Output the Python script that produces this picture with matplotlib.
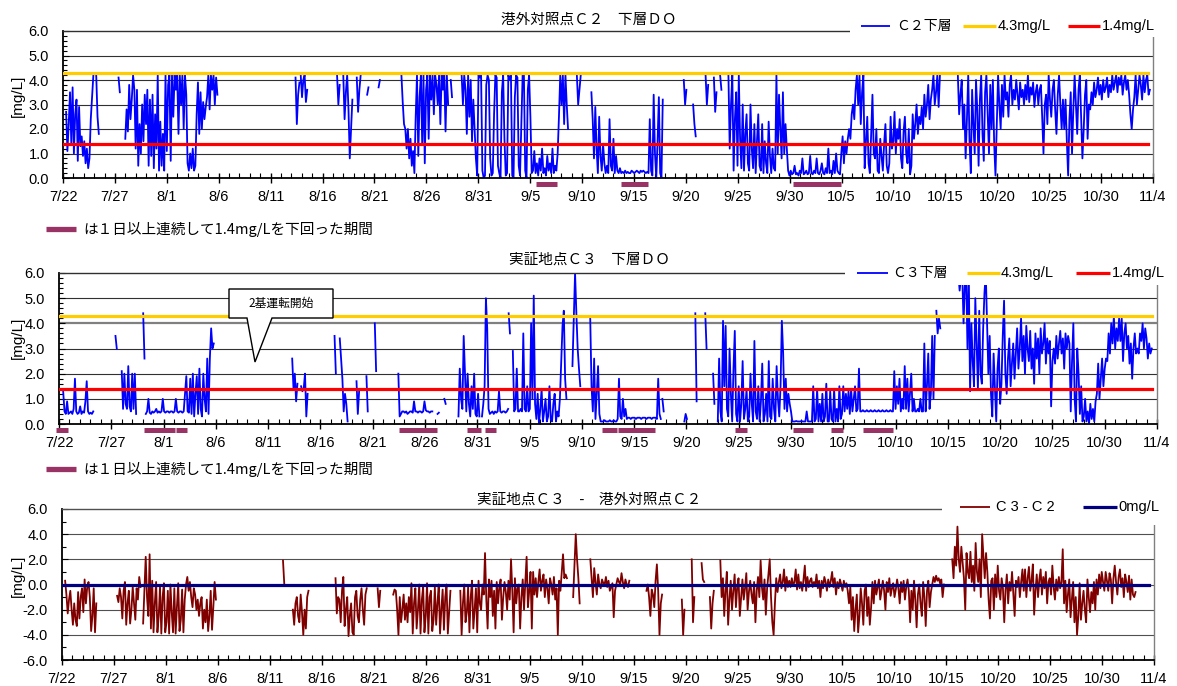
import numpy as np
import matplotlib
matplotlib.use("Agg")
import matplotlib.pyplot as plt
from matplotlib.lines import Line2D
from matplotlib.patches import Polygon, Rectangle
from matplotlib.transforms import blended_transform_factory

# ---------------------------------------------------------------- data
# Day offsets are counted from 7/22 (day 0); each series is stored as
# runs of readings taken every STEP days (3 h), starting at the given day.
STEP = 0.125

TICK_DAYS = list(range(0, 106, 5))
TICK_LABELS = ["7/22", "7/27", "8/1", "8/6", "8/11", "8/16", "8/21", "8/26",
               "8/31", "9/5", "9/10", "9/15", "9/20", "9/25", "9/30", "10/5",
               "10/10", "10/15", "10/20", "10/25", "10/30", "11/4"]

LIMIT_HIGH = 4.3
LIMIT_LOW = 1.4
LIMIT_ZERO = 0.0
LIMIT_SPAN = [0.0, 104.5]

# C2 lower-layer DO [mg/L]
C2_RUNS = [
    (0.3, [2.7, 1.1, 2.2, 3.5, 1.4, 3.7, 1.0, 2.6, 3.2, 0.7, 2.9, 1.3, 1.7,
           0.9, 1.5, 0.6, 1.2, 0.4, 0.8, 2.4, 3.3, 4.2]),
    (3.2, [4.2, 2.5, 1.8]),
    (5.35, [4.1, 3.5]),
    (6.0, [1.6, 2.8, 1.9, 3.8, 2.4, 3.2, 4.2, 3.6,
           1.2, 3.6, 0.5, 2.2, 1.0, 3.0,
           1.5, 3.4, 2.2, 3.6,
           0.5, 3.2, 0.9, 3.4, 0.4, 2.6, 1.2, 4.2,
           0.3, 2.3, 0.5, 1.8, 0.3,
           4.2, 1.1, 3.8, 4.2, 0.7, 4.2, 2.5, 4.2, 3.6, 4.2, 1.8, 4.2, 3.0,
           4.2, 2.0, 4.2, 3.4,
           0.6, 0.3, 1.0, 0.4, 1.2, 0.3, 0.5,
           2.6, 3.9, 1.8, 3.5,
           2.0, 3.1, 2.4, 2.9,
           3.3, 4.2, 2.8, 4.2, 3.6, 4.2, 3.0, 4.1, 3.4]),
    (22.4, [4.1, 2.2, 3.4, 3.9]),
    (22.9, [4.2, 3.3, 4.0, 4.2, 3.1, 3.6]),
    (26.4, [4.2, 3.0, 3.8]),
    (27.0, [4.2, 2.4, 3.5, 4.2, 2.8, 0.8, 2.0, 3.2]),
    (28.3, [4.1, 2.7, 3.6, 4.2]),
    (29.3, [3.4, 3.7]),
    (30.4, [3.7, 4.0]),
    (32.6, [4.2, 3.1, 2.2, 2.0,
            1.2, 2.0, 0.8, 1.6, 0.5, 1.1, 0.2,
            2.5, 4.2, 0.9, 3.3, 4.2, 1.4, 4.2, 0.6, 3.6, 4.2,
            1.6, 4.2, 3.2, 4.2, 2.6, 4.2, 3.8, 3.0, 4.2, 2.2, 4.2, 3.6, 4.2,
            1.9, 4.2, 3.0]),
    (37.35, [4.0, 3.3]),
    (38.4, [4.2, 3.0, 4.2, 3.6, 1.8, 4.2, 2.5, 4.0, 1.5, 3.2, 2.0, 0.8, 0.1,
            4.2, 4.1, 4.2, 0.3, 0.0, 0.1, 3.8, 4.2, 4.0, 0.8, 0.1, 0.2, 2.6,
            4.2, 4.1, 0.5, 0.2, 0.0, 3.5, 4.2, 1.6, 0.1, 0.2, 4.2, 4.0, 4.2,
            0.1, 0.0, 3.3, 4.2, 4.1, 0.5, 0.1, 2.2, 4.2, 4.2, 0.3, 0.0, 3.6,
            4.2, 2.5, 0.2,
            0.3, 1.1, 0.2, 0.6, 0.1, 0.8, 0.3, 1.2, 0.2, 0.4, 0.1, 0.9, 0.3,
            0.6, 0.2, 1.2, 0.2, 0.5, 0.3, 1.0,
            2.5, 4.2, 3.0, 4.2, 2.2, 4.2, 3.0, 2.0]),
    (49.5, [4.2, 3.0, 3.6, 4.2]),
    (50.9, [3.5, 2.4, 0.8, 2.9, 1.2, 0.2, 2.5, 0.9, 0.3, 1.4, 0.6, 0.2, 0.5,
            0.2, 2.4, 0.5, 0.3, 1.6, 0.2, 0.9, 0.3, 0.2, 0.4,
            0.2, 0.25, 0.2, 0.3, 0.2, 0.25, 0.2, 0.2, 0.3, 0.25, 0.2, 0.25,
            0.3, 0.25, 0.2, 0.3, 0.25, 0.3, 0.25, 0.2, 0.25,
            0.2, 2.4, 0.3, 0.1, 3.4, 1.0, 0.0, 1.5, 3.3, 0.2, 0.0, 3.2]),
    (59.8, [4.0, 3.0, 3.6]),
    (60.7, [3.0, 2.2, 1.7]),
    (61.9, [4.2, 3.0, 3.8]),
    (62.7, [4.1, 2.7, 3.5]),
    (63.3, [4.2, 3.6]),
    (64.1, [4.2, 1.2, 3.0, 4.2, 0.3, 2.4, 3.5, 0.5, 4.2, 1.6, 0.4,
            3.0, 0.3, 1.8, 2.6, 0.6, 0.3, 3.0, 1.2, 0.4, 2.2, 0.2, 1.5, 2.6,
            0.5, 0.3,
            2.2, 0.2, 1.5, 0.6, 0.2, 2.3, 0.9, 0.2, 1.2, 0.4, 0.3,
            4.2, 1.0, 3.4, 2.0, 0.8, 3.5, 1.0, 2.2, 1.2, 0.3,
            0.1, 0.3, 0.15, 0.2, 0.5, 0.15, 0.2, 0.1, 0.3, 0.2, 0.8, 0.15,
            0.2, 0.3, 0.15, 0.2, 0.9, 0.2, 0.15, 0.3, 0.2, 0.8, 0.2, 0.15,
            0.3, 0.6, 0.2, 0.15, 0.4, 0.2, 1.2, 0.2, 0.3, 0.15, 0.7, 0.2,
            1.0, 0.3, 0.2, 0.15,
            1.0, 1.7, 0.6, 1.5, 1.0, 1.6,
            2.0, 1.6, 2.6, 3.0, 2.4, 3.6, 4.2, 3.0, 4.2, 2.2, 3.5, 4.2,
            0.4, 1.5, 2.5, 0.6, 0.2, 1.8, 3.4, 1.0, 0.8, 2.0, 0.3, 0.2, 1.6,
            0.9, 0.3, 1.4, 2.2, 0.5, 0.2,
            0.6, 2.5, 1.2, 1.5, 2.7, 1.0, 2.0, 1.6, 2.4, 0.8, 0.4, 1.9, 2.5,
            1.0, 0.6, 2.0, 0.15, 0.5,
            2.6, 1.6, 2.2, 3.0, 1.8, 2.5, 2.2, 2.9, 2.0,
            3.4, 2.5, 3.0, 3.8, 2.4, 3.2, 3.6, 4.2, 3.0, 3.5, 4.2, 2.9, 4.2]),
    (86.2, [4.2, 2.6, 3.4, 4.0, 2.0, 3.0,
            0.8, 2.4, 4.2, 1.5, 0.2, 3.6, 2.2, 1.0, 4.0, 2.8, 0.5, 3.2, 4.2,
            1.8, 0.7, 3.5, 4.2, 2.6, 1.0, 3.8, 2.0, 4.0, 1.4, 0.1, 2.2, 4.2,
            3.0, 2.0, 3.8, 2.5, 4.2, 3.2,
            3.5, 2.5, 3.8, 4.2, 3.0, 3.6, 3.2, 4.0, 3.4, 2.8, 3.9, 3.3, 3.6,
            3.0, 3.8, 3.2, 4.2, 3.1, 3.7, 3.4, 3.9, 2.9, 3.5, 3.8, 3.0, 3.6,
            3.8, 2.5, 1.0, 3.0, 3.4, 2.2, 4.2, 3.2, 2.5, 3.6, 4.0, 2.8, 1.8,
            3.4, 4.2, 3.0, 2.0, 3.2,
            2.0, 3.2, 1.5, 0.1, 2.4, 3.5, 1.0, 2.8, 4.2, 3.0, 1.8, 3.6, 4.2,
            2.5, 0.8, 2.0, 3.4, 4.0, 1.6, 3.0,
            2.8, 3.5, 3.0, 3.9, 3.3, 3.6, 4.1, 3.4, 3.8, 3.2, 4.0, 3.5, 3.7,
            4.1, 3.3, 3.8,
            3.5, 4.2, 3.6, 3.9, 4.2, 3.5, 4.1, 3.8, 4.2, 3.4, 3.9, 4.2, 3.6,
            4.0, 3.4, 2.6, 2.0, 2.8, 3.3, 4.2, 3.0, 3.6, 4.2, 3.8, 3.2, 4.2,
            3.5, 4.0, 4.2, 3.4, 3.6]),
]

# C3 lower-layer DO [mg/L]
C3_RUNS = [
    (0.4, [1.3, 0.5, 0.4, 0.9, 0.4, 0.45, 0.5, 0.4, 0.6, 1.8, 0.5, 0.4, 0.45,
           0.7, 0.4, 0.5, 0.45, 0.9, 1.7, 0.5, 0.4, 0.45, 0.4, 0.5]),
    (5.4, [3.5, 3.0]),
    (6.0, [2.1, 0.6, 2.0, 0.8, 0.6, 2.3, 0.7, 0.5, 2.0, 0.6, 2.0, 0.4]),
    (8.05, [4.4, 2.6]),
    (8.3, [0.4, 0.5, 1.0, 0.45, 0.4, 0.5, 0.45, 0.5, 0.6, 0.45, 0.5, 0.45,
           0.5, 1.0, 0.5, 0.45, 0.5, 0.5, 0.45, 0.5, 0.5, 0.45, 0.5, 1.0,
           0.5, 0.45, 0.5, 0.5, 0.45, 0.5, 1.2, 1.9, 0.5, 0.45,
           1.8, 0.4, 2.0, 0.3, 1.2, 1.9, 0.4, 2.2, 0.6, 0.3, 2.0, 1.0, 0.5,
           2.6, 0.4,
           2.6, 3.8, 3.0, 3.2]),
    (22.3, [2.6, 1.4, 2.0, 0.9, 1.6]),
    (23.15, [1.5, 1.3, 1.4, 2.0, 0.3, 1.2]),
    (26.35, [3.5, 2.0]),
    (26.85, [3.4, 2.6, 1.8, 0.5, 1.2, 0.8, 0.1]),
    (28.45, [1.7, 0.4, 1.3]),
    (29.4, [1.9, 0.5]),
    (30.2, [4.0, 2.1]),
    (32.45, [2.0, 0.3, 0.4, 0.5, 0.5, 0.45, 0.5, 0.4, 0.45, 0.5, 0.5, 0.45,
             0.9, 0.5, 0.5, 0.45, 0.5, 0.5, 0.45, 0.5, 0.9, 0.55, 0.5, 0.5,
             0.45, 0.5, 0.5]),
    (36.2, [0.4, 0.45]),
    (36.85, [1.0, 0.8]),
    (38.2, [0.3, 2.2, 1.0, 0.6, 3.5, 2.0, 0.5, 2.0, 0.8, 0.3, 1.5, 0.6, 2.0,
            0.4, 0.3, 1.2, 0.3]),
    (40.45, [0.3, 0.8, 1.5, 5.0, 3.8, 0.6, 0.4, 0.45, 0.5, 0.4, 0.5, 0.45,
             0.5, 1.3, 0.5, 0.45, 0.5, 0.5, 0.45, 0.5, 0.6]),
    (43.0, [4.4, 3.6]),
    (43.4, [2.9, 0.5, 0.6, 2.2, 0.5, 0.5, 0.6, 0.5,
            3.6, 0.6, 0.5, 1.5, 0.5, 0.6,
            4.0, 1.0, 5.1, 0.8, 0.2,
            1.2, 0.0, 0.6, 1.4, 0.1, 0.5, 1.0, 0.1, 0.3, 1.5, 0.2, 0.1, 0.8,
            1.2, 0.1, 0.5, 0.3,
            1.0, 2.4, 3.9, 4.5, 1.8, 1.0]),
    (49.1, [2.3, 4.2, 6.0, 4.4, 3.0, 2.2, 1.5]),
    (50.8, [4.2, 1.5, 0.5, 2.6, 0.2, 1.2, 2.3, 0.4, 0.1,
            0.1, 0.1, 0.15, 0.1, 0.1, 0.1, 0.15, 0.1, 0.1, 0.15, 0.1, 0.1,
            0.2,
            1.8, 0.3, 0.2, 1.0, 0.3, 0.6, 0.2,
            0.25, 0.25, 0.2, 0.25, 0.25, 0.25, 0.2, 0.25, 0.25, 0.25, 0.2,
            0.25, 0.25, 0.25, 0.2, 0.25, 0.25, 0.25, 0.2, 0.25, 0.25, 0.25,
            0.2,
            1.8, 0.4, 0.2]),
    (57.7, [1.0, 0.5]),
    (59.8, [0.1, 0.4, 0.2]),
    (60.85, [4.4, 0.9]),
    (61.8, [4.4, 3.0]),
    (62.55, [2.0, 0.8]),
    (63.0, [0.1, 2.6, 0.5, 0.1, 4.1, 1.5, 3.9, 0.6, 0.3, 3.0, 1.2, 0.1, 2.2,
            3.7, 0.4, 0.1,
            1.5, 0.1, 0.8, 2.5, 0.2, 0.6, 1.4, 0.1, 0.3, 2.0, 0.8, 0.1, 3.3,
            0.5, 0.2, 1.5, 0.1, 0.9, 2.4, 0.1, 0.4, 1.2, 0.1, 2.5, 0.3, 0.2,
            1.8, 0.6, 0.1, 2.3, 1.0, 0.3,
            1.5, 4.1, 2.8,
            0.6, 1.8, 0.5, 1.2, 0.8, 0.5,
            0.1, 0.1, 0.1, 0.12, 0.1, 0.1, 0.1, 0.12, 0.1, 0.1, 0.1, 0.5, 0.1,
            0.1, 0.1, 0.1,
            1.5, 0.1, 0.2, 1.4, 0.1, 0.8, 0.1, 1.2, 0.1, 0.3, 1.6, 0.1, 0.1,
            1.3, 0.2, 0.1, 1.4, 0.1, 0.6, 0.1, 1.5, 0.2,
            0.4, 1.5, 0.5, 1.2, 0.6, 1.3, 0.4, 1.4, 0.5, 1.0, 1.5, 0.5, 0.6,
            2.2, 0.5, 0.5,
            0.55, 0.5, 0.5, 0.55, 0.5, 0.5, 0.55, 0.5, 0.5, 0.55, 0.5, 0.5,
            0.55, 0.5, 0.5, 0.55, 0.5, 0.5, 0.55, 0.5, 0.5, 0.55, 0.5, 0.5,
            2.1, 0.6, 1.5, 0.8, 1.8, 0.5, 1.0, 0.6,
            2.3, 0.6, 1.8, 0.5, 1.2, 2.0, 0.5, 1.0, 0.5, 0.5,
            0.6, 0.5, 1.0, 0.5, 0.5,
            3.2, 0.5, 1.5, 2.8, 0.6, 1.2, 3.5, 1.0, 3.5]),
    (83.9, [4.5, 3.6, 4.2, 3.8]),
    (86.0, [6.0, 5.3, 5.8, 6.0, 4.0, 5.5, 6.0, 3.0, 6.0,
            1.3, 4.0, 2.5, 1.5, 5.0, 3.2, 1.4, 4.5, 2.0, 1.6, 3.8, 5.2, 6.0,
            4.0, 2.0,
            3.5, 1.2, 0.3, 2.8, 1.5, 0.1, 2.2, 3.0, 0.8, 1.6, 3.5, 4.9, 2.0,
            1.2, 2.6,
            3.4, 1.5, 2.4, 3.2, 1.8, 2.8, 3.8, 2.2, 3.0, 4.2, 2.5, 3.5, 2.0,
            3.9, 3.0, 2.5,
            3.7, 2.2, 3.0, 1.6, 3.6, 2.6, 3.4, 2.0, 3.8, 2.8, 3.2, 4.0, 2.4,
            3.4, 2.8, 3.3, 0.7, 2.5,
            3.0, 2.4, 3.5, 2.6, 3.2, 3.7, 2.8, 3.4, 2.2, 3.6, 3.0, 3.5, 3.2,
            0.5, 2.5, 4.0, 1.0, 0.1, 3.0, 2.0, 0.4, 1.5, 0.1,
            0.3, 1.0, 0.1, 0.5, 0.0, 0.8, 0.2, 0.6, 0.1, 0.9,
            1.2, 2.4, 1.0, 1.8, 2.6, 1.5, 2.2, 2.6,
            2.5, 3.6, 2.8, 4.0, 3.2, 4.3, 3.0, 3.8, 3.3, 4.2,
            3.3, 4.2, 2.5, 3.6, 4.0, 3.0, 3.5, 2.4, 3.2, 1.8, 3.0, 3.6, 2.8,
            3.0, 2.8, 3.6, 3.3, 4.0, 3.0, 3.8, 3.4, 2.6, 3.2, 2.8, 3.0]),
]

# C3 minus C2 [mg/L]
DIFF_RUNS = [
    (0.3, [0.3, -0.8, -2.3, -1.2, -0.5, -2.0, -3.2, -1.5, -2.8, -3.3, -0.6,
           -2.7, -1.0, -0.3, -2.2, 0.4, -1.5, -0.2, 0.2, -1.0, -3.7, -2.5,
           -0.3, -3.8, -1.5]),
    (5.3, [-0.9, -1.4, -0.3, -1.0, -2.7, -0.5, 0.2, -3.2, -1.5, -0.5, -3.1,
           -2.0, -0.2, -1.5, -2.8, -0.3, -1.2, 0.6, -0.2]),
    (7.8, [-3.1, -0.5, 2.2, -1.0, -2.5, 2.4, -3.5,
           0.3, -3.8, -1.5, 0.2, -3.8, -2.5, -0.2, -3.9, -1.0, 0.1, -3.8,
           -3.0, -0.5, -3.9, 0.0, -2.2, -3.8, -0.3, -3.9, -1.8, 0.1, -3.7,
           -2.8, -0.4, -3.8, -1.2, 0.0,
           0.6, -0.5, 0.2, -1.0, -1.8, -0.3, -0.8, -2.0, -1.2, -2.5, -1.5,
           -1.0, -3.5, -2.0, -3.0, -1.2, -3.7, -2.5, -0.5, -3.6, -1.8, 0.2,
           -1.2]),
    (21.25, [1.9, 0.0]),
    (22.2, [-2.0, -3.2, -1.5, -1.0, -2.5, -3.0, -0.8, -2.2, -4.0, -2.0,
            -3.5, -1.0, -0.5]),
    (26.3, [0.5, -2.3, -1.0, -1.2, -3.0, -0.5, 0.6, -3.3, -2.0, -1.0, -4.1,
            -2.5, -1.5, -3.8, -4.0, -1.0, -0.5, -2.5, -3.0, -1.2, -0.3, -2.0,
            -3.2, -0.8, -0.3]),
    (30.35, [-0.3, -1.8, -0.5]),
    (31.85, [-0.8, -0.4, -0.5, -2.0, -4.0,
             -1.0, -3.0, -2.0, -0.8, -2.8, -1.5, -3.0, -1.0, -2.2, 0.1,
             -3.9, -1.5, -0.3, -3.5, -2.0, 0.0, -3.9, -1.2, -0.2, -3.8, -2.5,
             0.1, -3.9, -1.0, -0.5, -3.7, -2.8, -0.2, -3.2, -1.5, 0.0, -3.9,
             -2.0, -0.4, -3.6, -1.0, 0.0, -3.9, -2.2, -0.5]),
    (38.3, [-0.5, -4.0, -1.5, 0.0, -3.0, -2.2, -0.2, -3.8, -1.0, 0.3, -3.5,
            -2.0, -0.3,
            -3.8, 0.3, -1.5, -2.0, 0.0, -0.8, 2.5, -1.2, -3.5, 0.4,
            -1.0, 0.3, -2.5, -0.5, -3.5, 0.2, -1.5, -0.2, 0.4, -2.8, -1.0,
            0.2, -0.6, -2.0, 0.3, -1.2, 2.0, -0.5,
            -3.8, 0.5, -1.5, -0.3, 0.0, -3.5, -1.0, 0.4, -2.0, 0.2, 2.2, -1.8,
            -0.5, 1.0, -3.5,
            1.0, -0.8, 0.5, -1.0, 0.2, 1.2, -0.5, 0.3, 0.8, -1.0, 0.4, -0.3,
            -1.5, 0.5, 0.0, -0.8, 0.6, -1.2, -0.3, -4.0,
            0.3, -0.5, 1.0, 2.4, 0.5, 0.8, 0.5]),
    (49.15, [-1.0, 1.5, 4.0, 2.0, 0.5, -1.5]),
    (50.8, [2.0, 0.5, -1.0, 1.3, 0.2, -0.8, 0.8, 0.0, -0.3, 0.4, 0.1, 0.0,
            0.6, -0.2, 0.3, -0.5, -0.2, 0.1, -2.6, -0.5, 0.0, 0.5, 0.2, 0.0,
            0.9, 0.2, -0.3, 0.4, 0.0, -0.2, 0.3]),
    (56.2, [-0.5, 0.0, -1.0, -2.5, -0.4, -0.8, -1.8, 0.3, 1.6, -0.5, -4.0,
            -1.5, -0.8]),
    (59.6, [-1.2, -4.0, -2.0]),
    (60.55, [2.0, -3.0, -1.0]),
    (61.5, [1.7, 0.4, 0.2]),
    (62.3, [-1.0, -3.5, -1.5, -0.5]),
    (63.3, [1.9, -1.0, 0.5, -2.5, -0.5, 1.0, -3.2, -1.2, 0.3, -2.0, -0.5,
            0.8, -1.8, -0.2, 0.5, -2.5, -1.0, 0.4, -1.2, -0.3, 0.9, -2.0,
            -0.6, 0.3, -0.8, -1.5, 0.2, -3.0, -0.5, 0.6, -1.0, 1.9, -0.2,
            -1.2, 0.4, -2.4, -0.3, 0.8,
            2.0, -1.0, -3.0, -4.0, -1.5, 0.5, -0.6, 0.2,
            0.8, -0.3, 0.2, 1.2, -0.5, 0.6, -0.2, 0.3, -0.2, 0.5, -0.1, 0.2,
            1.2, -0.4, 0.8, -0.3, 0.2, -0.5, 0.4, 1.5, -0.5, 0.6, -0.2, 0.3,
            0.5, -0.2, 0.2, -0.1, 0.8, -0.3, 0.3, -1.0, 0.3, -0.3, 0.6, 0.2,
            -0.5, 0.4, -0.2, 0.3, 1.0, -0.2, 0.5, -0.8, 0.2, -0.3, 0.4, 0.0,
            -0.5, 0.3, -0.2, 0.1,
            -0.5, -1.5, -0.2, -2.8, -1.0, -3.7, -2.0, -0.8, -3.8, -2.5, -0.3,
            -1.5, -3.2, -0.5, 0.0, -2.5, -1.0, -3.2, -1.8, 0.2,
            -1.5, 0.3, -0.8, -0.2, 0.4, -1.2, -0.5, 0.3, -0.5, -2.0, 0.2,
            -0.6, 0.5, -0.9, -0.3, 0.1, -1.0, -0.4, 0.4, -0.3, -1.5, 0.2,
            -0.6, 0.3, -1.2, -0.2, 0.4, -0.5,
            -3.0, -0.5, -2.0, 0.3, -1.2, -3.4, -0.8, 0.0, -1.5, -2.5, 0.2,
            -1.0, -3.3, -0.5, 0.3, -1.8, -0.6, 0.0,
            0.6, 0.2, 0.7, 0.3, 0.5, 0.1, 0.4, -1.0, 0.0]),
    (85.6, [2.0, 0.5, 3.0, 1.5, 4.6, 2.0, 1.0, 3.0, 1.8, 0.5, -2.0, 2.5, 1.0,
            0.5,
            2.6, 0.2, 1.5, -0.5, 3.3, 1.0, 0.2, 2.0, -1.0, 4.0, 2.2, 0.5, 2.5,
            1.0, -1.2, -2.7, 0.3, 0.5,
            -2.0, 0.8, -1.0, 1.5, -0.5, -1.2, 0.5, -0.3, -3.0, -0.4, 0.8,
            -1.5, 0.2, -0.5, 1.0, -0.8, -2.5, 0.3, -0.2, 0.6, -1.0, 0.2, 1.2,
            -0.5, 1.2, -1.0, 0.5, 1.4, -0.5, 0.3, 1.6, -2.4, -0.5, 0.8, -1.0,
            0.4, 1.2, -0.8, 0.6, -0.3, 1.0, -1.5, 0.2, 0.5, -0.8, 1.5, -0.2,
            -1.2, 0.4, -0.5, 0.6,
            -0.3, 0.2, 2.8, -1.5, 0.3, -2.2, -0.8, 0.4, -2.6, -1.2, 0.2, -3.0,
            -1.0, -4.0, -2.5, 0.1, -2.8, -1.5, -0.5, -2.0, -3.0, 0.4, -1.0,
            -2.2, -0.6, -1.5, 0.2, -2.0,
            0.4, -0.8, 0.8, -0.3, 1.0, 0.2, -0.5, 1.0, 0.3, -0.5, 0.9, 0.4,
            -1.5, 0.5, 1.5, 0.2, -0.8, 0.6, 1.2, -0.2, 0.5, -1.0, 0.8, 0.2,
            -0.6, 0.7, -1.2, 0.4, -0.8, -1.0, -0.6]),
]

# Periods below 1.4 mg/L for a day or more: (start day, end day)
C2_LOW_PERIODS = [(45.6, 47.6), (53.8, 56.4), (70.3, 74.95)]
C3_LOW_PERIODS = [(-0.3, 0.9), (8.1, 11.1), (11.2, 12.2), (32.5, 36.1),
                  (39.0, 40.4), (40.7, 41.8), (51.9, 53.4), (53.5, 57.0),
                  (64.6, 65.8), (70.2, 72.1), (73.8, 75.0), (76.9, 79.8)]

# ---------------------------------------------------------------- styling
BLUE = "#0000FF"
YELLOW = "#FFCC00"
RED = "#FF0000"
MAROON = "#800000"
NAVY = "#000080"
PURPLE = "#993366"
JP = ["Noto Sans CJK JP", "DejaVu Sans"]
LAT = ["Liberation Sans", "Noto Sans CJK JP"]

plt.rcParams["font.family"] = LAT

W, H = 1177, 686
fig = plt.figure(figsize=(W / 100, H / 100), dpi=100)
fig.patch.set_facecolor("white")


def fx(px):
    return px / W


def fy(py):
    return 1 - py / H


def runs_to_xy(runs):
    xs, ys = [], []
    for start, vals in runs:
        xs.extend(start + STEP * np.arange(len(vals)))
        ys.extend(vals)
        xs.append(np.nan)
        ys.append(np.nan)
    return np.array(xs), np.array(ys)


def add_panel(x0, x1, y0, y1):
    return fig.add_axes([fx(x0), fy(y1), (x1 - x0) / W, (y1 - y0) / H])


def style_panel(ax, ylo, yhi, major, minor, grid_color, special=None):
    ax.set_xlim(0, 105)
    ax.set_ylim(ylo, yhi)
    ax.set_xticks(TICK_DAYS)
    ax.set_xticklabels(TICK_LABELS)
    ax.set_xticks(np.arange(0, 106, 1), minor=True)
    yt = np.arange(ylo, yhi + 1e-6, major)
    ax.set_yticks(yt)
    ax.set_yticklabels([f"{v:.1f}" for v in yt])
    ax.set_yticks(np.arange(ylo, yhi + 1e-6, minor), minor=True)
    ax.tick_params(axis="x", which="major", direction="inout", length=7,
                   width=1.0, pad=5, labelsize=10.5)
    ax.tick_params(axis="x", which="minor", direction="in", length=3.6,
                   width=0.8)
    ax.tick_params(axis="y", which="major", direction="in", length=4,
                   width=0.8, pad=10, labelsize=10.5)
    ax.tick_params(axis="y", which="minor", direction="in", length=3,
                   width=0.8)
    for v in yt[1:-1]:
        if special is not None and abs(v - special) < 1e-6:
            ax.axhline(v, color="#808080", lw=1.6, zorder=1)
        else:
            ax.axhline(v, color=grid_color, lw=0.8, zorder=1)
    ax.spines["left"].set_linewidth(1.3)
    ax.spines["bottom"].set_linewidth(1.3)
    ax.spines["top"].set_linewidth(1.0)
    ax.spines["top"].set_color(grid_color)
    ax.spines["right"].set_linewidth(1.0)
    ax.spines["right"].set_color("#808080")


def low_bars(ax, periods):
    tr = blended_transform_factory(ax.transData, ax.transAxes)
    for a, b in periods:
        ax.plot([a, b], [-0.042, -0.042], color=PURPLE, lw=3.6,
                solid_capstyle="butt", transform=tr, clip_on=False, zorder=4)


def legend_block(box, items, y):
    x0, y0, x1, y1 = box
    fig.add_artist(Rectangle((fx(x0), fy(y1)), (x1 - x0) / W, (y1 - y0) / H,
                             transform=fig.transFigure, facecolor="white",
                             edgecolor="none", zorder=5))
    for lx0, lx1, color, lw, label, tx, fam, fs in items:
        fig.add_artist(Line2D([fx(lx0), fx(lx1)], [fy(y), fy(y)],
                              transform=fig.transFigure, color=color, lw=lw,
                              solid_capstyle="butt", zorder=6))
        fig.text(fx(tx), fy(y), label, ha="left", va="center",
                 fontsize=fs, family=fam, zorder=6)


def ylabel(py):
    fig.text(fx(17.5), fy(py), "[mg/L]", rotation=90, ha="center",
             va="center", fontsize=11, family=LAT)


def low_note(py):
    fig.add_artist(Line2D([fx(46), fx(76)], [fy(py), fy(py)],
                          transform=fig.transFigure, color=PURPLE, lw=3.8,
                          solid_capstyle="butt"))
    fig.text(fx(83), fy(py), "は１日以上連続して1.4mg/Lを下回った期間",
             ha="left", va="center", fontsize=10.5, family=JP)


# ---------------------------------------------------------------- panel 1
ax1 = add_panel(63, 1153, 31, 178)
style_panel(ax1, 0.0, 6.0, 1.0, 0.2, "#303030")
x, y = runs_to_xy(C2_RUNS)
ax1.plot(x, y, color=BLUE, lw=1.3, zorder=2)
ax1.plot(LIMIT_SPAN, [LIMIT_HIGH] * 2, color=YELLOW, lw=2.3, zorder=3)
ax1.plot(LIMIT_SPAN, [LIMIT_LOW] * 2, color=RED, lw=2.3, zorder=3)
low_bars(ax1, C2_LOW_PERIODS)
fig.text(fx(589), fy(20), "港外対照点Ｃ２　下層ＤＯ", ha="center",
         va="center", fontsize=10.5, family=JP)
legend_block((850, 6, 1177, 37), [
    (861, 890, BLUE, 1.3, "Ｃ２下層", 896, JP, 10),
    (963, 996, YELLOW, 2.3, "4.3mg/L", 998, LAT, 10.5),
    (1068, 1100, RED, 2.3, "1.4mg/L", 1102, LAT, 10.5),
], 26)
ylabel(96)
low_note(229)

# ---------------------------------------------------------------- panel 2
ax2 = add_panel(59, 1157, 273, 424)
style_panel(ax2, 0.0, 6.0, 1.0, 0.2, "#303030", special=4.0)
x, y = runs_to_xy(C3_RUNS)
ax2.plot(x, y, color=BLUE, lw=1.3, zorder=2)
ax2.plot(LIMIT_SPAN, [LIMIT_HIGH] * 2, color=YELLOW, lw=2.3, zorder=3)
ax2.plot(LIMIT_SPAN, [LIMIT_LOW] * 2, color=RED, lw=2.3, zorder=3)
low_bars(ax2, C3_LOW_PERIODS)
fig.text(fx(589), fy(259.5), "実証地点Ｃ３　下層ＤＯ", ha="center",
         va="center", fontsize=10.5, family=JP)
legend_block((845, 250, 1177, 285), [
    (857, 888, BLUE, 1.3, "Ｃ３下層", 892, JP, 10),
    (967, 1000, YELLOW, 2.3, "4.3mg/L", 1001, LAT, 10.5),
    (1076, 1110, RED, 2.3, "1.4mg/L", 1112, LAT, 10.5),
], 273)
ylabel(338)
low_note(469)

# callout marking the start of two-unit operation
callout = [(229, 289), (333, 289), (333, 318), (272, 318), (255, 362),
           (247, 318), (229, 318)]
fig.add_artist(Polygon([(fx(px), fy(py)) for px, py in callout],
                       closed=True, transform=fig.transFigure,
                       facecolor="white", edgecolor="black", lw=1.0,
                       zorder=5))
fig.text(fx(281), fy(303), "2基運転開始", ha="center", va="center",
         fontsize=8.5, family=JP, zorder=6)

# ---------------------------------------------------------------- panel 3
ax3 = add_panel(62, 1154, 509, 660)
style_panel(ax3, -6.0, 6.0, 2.0, 1.0, "#505050")
x, y = runs_to_xy(DIFF_RUNS)
ax3.plot(x, y, color=MAROON, lw=1.3, zorder=2)
ax3.plot(LIMIT_SPAN, [LIMIT_ZERO] * 2, color=NAVY, lw=2.3, zorder=3)
fig.text(fx(589), fy(499.5), "実証地点Ｃ３　-　港外対照点Ｃ２", ha="center",
         va="center", fontsize=10.5, family=JP)
legend_block((942, 488, 1177, 525), [
    (960, 990, MAROON, 1.3, "C 3 - C 2", 996, LAT, 10.5),
    (1083, 1117, NAVY, 2.3, "0mg/L", 1118, LAT, 10.5),
], 507)
ylabel(576)

fig.savefig("out.png", dpi=100)
